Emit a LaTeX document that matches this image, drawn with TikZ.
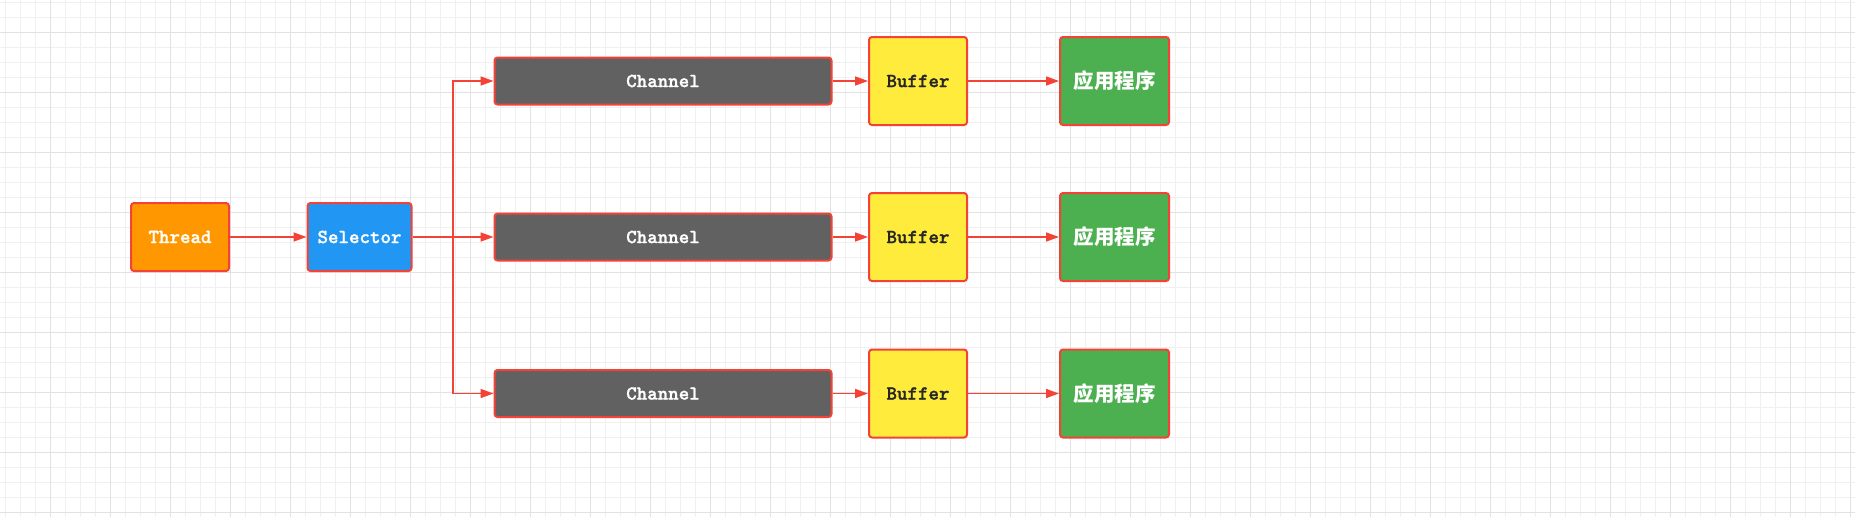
\documentclass[tikz,border=0pt]{standalone}
\usepackage{fontspec}
\usepackage{xcolor}
\usepackage{tikz}
\usetikzlibrary{arrows.meta,positioning,calc}
\newfontfamily\cjk{Noto Sans CJK SC}
\newfontfamily\codefont{lmmonolt10-bold}[Extension = .otf, FakeBold = 1.2]
\definecolor{edgered}{HTML}{F44336}
\definecolor{threadorange}{HTML}{FF9800}
\definecolor{selectorblue}{HTML}{2196F3}
\definecolor{channelgray}{HTML}{616161}
\definecolor{bufferyellow}{HTML}{FFEB3B}
\definecolor{appgreen}{HTML}{4CAF50}
\definecolor{gridminor}{HTML}{F0F0F0}
\definecolor{gridmajor}{HTML}{E2E2E2}

\begin{document}
\begin{tikzpicture}[x = 1pt, y = -1pt,
  box/.style = {draw = edgered, line width = 2pt, rounded corners = 3pt, inner sep = 0pt,
    text = white, font = \codefont\fontsize{20}{23}\selectfont},
  flow/.style = {draw = edgered, line width = 1.6pt, -{Triangle[length = 13pt, width = 9pt]}}]
  \useasboundingbox (0,0) rectangle (1855,517);
  \fill[white] (0,0) rectangle (1855,517);
  \foreach \i in {0,...,123} \draw[gridminor, line width = 1pt] ({5.7+15*\i},0) -- ({5.7+15*\i},517);
  \foreach \i in {0,...,34} \draw[gridminor, line width = 1pt] (0,{2.3+15*\i}) -- (1855,{2.3+15*\i});
  \foreach \i in {0,...,30} \draw[gridmajor, line width = 1pt] ({50.7+60*\i},0) -- ({50.7+60*\i},517);
  \foreach \i in {0,...,8} \draw[gridmajor, line width = 1pt] (0,{32.3+60*\i}) -- (1855,{32.3+60*\i});

  \node[box, fill = threadorange, minimum width = 98pt, minimum height = 68pt] (thread) at (180,237) {Thread};
  \node[box, fill = selectorblue, minimum width = 104pt, minimum height = 68pt] (selector) at (359.5,237) {Selector};
  \coordinate (split) at (453,237);
  \foreach \row/\y in {1/81, 2/237, 3/393.5} {
    \node[box, fill = channelgray, minimum width = 337pt, minimum height = 47pt] (channel\row) at (663,\y) {Channel};
    \node[box, fill = bufferyellow, text = black!85, minimum width = 98pt, minimum height = 88pt] (buffer\row) at (918,\y) {Buffer};
    \node[box, fill = appgreen, minimum width = 109pt, minimum height = 88pt,
      font = \cjk\bfseries\fontsize{20.5}{24}\selectfont] (app\row) at (1114.5,\y) {应用程序};
    \draw[flow] (channel\row) -- (buffer\row);
    \draw[flow] (buffer\row) -- (app\row);
  }
  \draw[flow] (thread) -- (selector);
  \draw[flow] (selector) -- (channel2);
  \draw[flow] (split) |- (channel1);
  \draw[flow] (split) |- (channel3);
\end{tikzpicture}
\end{document}
